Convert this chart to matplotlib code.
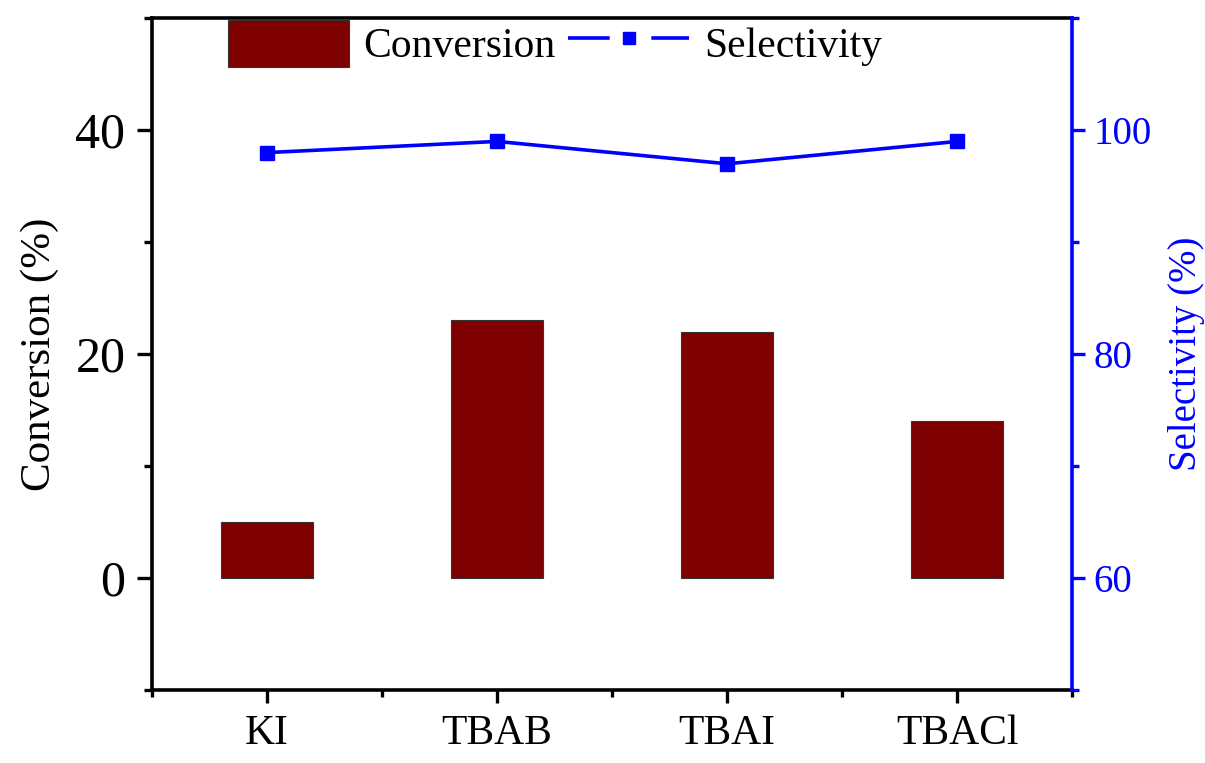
import matplotlib
matplotlib.use('Agg')
import matplotlib.pyplot as plt
from matplotlib.lines import Line2D
from matplotlib.patches import Patch
from matplotlib.ticker import MultipleLocator

plt.rcParams['font.family'] = ['Liberation Serif', 'DejaVu Serif']
plt.rcParams['lines.scale_dashes'] = False

catalysts = ['KI', 'TBAB', 'TBAI', 'TBACl']
conversion = [5, 23, 22, 14]
selectivity = [98, 99, 97, 99]

x = list(range(1, len(catalysts) + 1))
bar_color = '#7f0000'
sel_color = '#0000ff'

fig = plt.figure(figsize=(12.05, 7.63), dpi=100)
ax = fig.add_axes([0.126, 0.096, 0.764, 0.880])
ax2 = ax.twinx()

ax.bar(x, conversion, width=0.4, color=bar_color, edgecolor='#333333', linewidth=0.8, zorder=2)
ax2.plot(x, selectivity, color=sel_color, lw=2.6, marker='s', markersize=10, zorder=3)

ax.set_xlim(0.5, 4.5)
ax.set_ylim(-10, 50)
ax2.set_ylim(50, 110)

ax.set_xticks(x)
ax.set_xticklabels(catalysts)
ax.set_xticks([0.5, 1.5, 2.5, 3.5, 4.5], minor=True)
ax.yaxis.set_minor_locator(MultipleLocator(10))
ax2.yaxis.set_minor_locator(MultipleLocator(10))
ax.set_yticks([0, 20, 40])
ax2.set_yticks([60, 80, 100])

for s in ['left', 'bottom', 'top']:
    ax.spines[s].set_linewidth(2.6)
ax.spines['right'].set_visible(False)
for s in ['left', 'bottom', 'top']:
    ax2.spines[s].set_visible(False)
ax2.spines['right'].set_color(sel_color)
ax2.spines['right'].set_linewidth(2.6)

ax.tick_params(axis='y', which='major', direction='out', length=11, width=2.4, labelsize=36, pad=8)
ax.tick_params(axis='y', which='minor', direction='out', length=6, width=2.4)
ax.tick_params(axis='x', which='major', direction='out', length=9, width=2.4, labelsize=30, pad=9)
ax.tick_params(axis='x', which='minor', direction='out', length=5, width=2.4)
ax2.tick_params(axis='y', which='major', direction='out', length=9, width=2.4, labelsize=28,
                pad=6, color=sel_color, labelcolor=sel_color)
ax2.tick_params(axis='y', which='minor', direction='out', length=5, width=2.4, color=sel_color)

ax.set_ylabel('Conversion (%)', fontsize=31, labelpad=12)
ax2.set_ylabel('Selectivity (%)', fontsize=28, color=sel_color, labelpad=12)

handles = [
    Patch(facecolor=bar_color, edgecolor='#333333', linewidth=0.8),
    Line2D([], [], color=sel_color, lw=2.6, marker='s', markersize=9, dashes=(30, 30)),
]
fig.legend(handles, ['Conversion', 'Selectivity'], loc='upper left',
           bbox_to_anchor=(0.189, 0.974), ncol=2, frameon=False, fontsize=30,
           handlelength=2.9, handleheight=1.35, handletextpad=0.36, columnspacing=0.3,
           borderaxespad=0, borderpad=0)

fig.savefig('out.png', dpi=100)
